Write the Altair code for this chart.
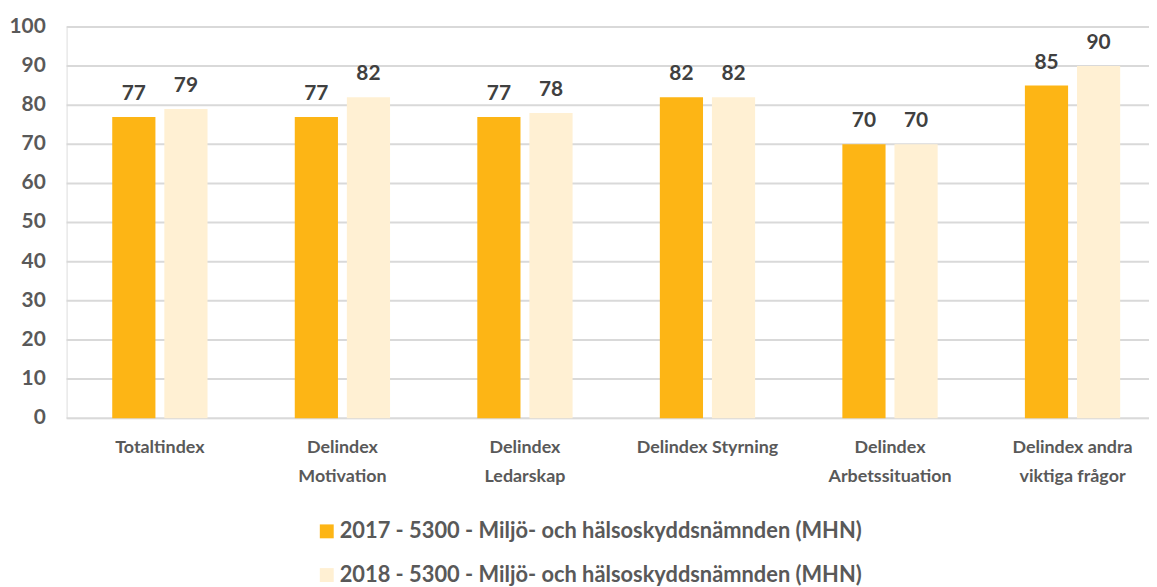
import altair as alt
import pandas as pd

categories = ["Totaltindex", "Delindex Motivation", "Delindex Ledarskap",
              "Delindex Styrning", "Delindex Arbetssituation", "Delindex andra viktiga frågor"]
label_lines = ["Totaltindex", "Delindex|Motivation", "Delindex|Ledarskap",
               "Delindex Styrning", "Delindex|Arbetssituation", "Delindex andra|viktiga frågor"]
series = ["2017 - 5300 - Miljö- och hälsoskyddsnämnden (MHN)",
          "2018 - 5300 - Miljö- och hälsoskyddsnämnden (MHN)"]
values_2017 = [77, 77, 77, 82, 70, 85]
values_2018 = [79, 82, 78, 82, 70, 90]
y_ticks = [0, 10, 20, 30, 40, 50, 60, 70, 80, 90, 100]
colors = ["#FDB515", "#FFF0D3"]

rows = []
for c, lab, a, b in zip(categories, label_lines, values_2017, values_2018):
    rows.append({"cat": lab, "serie": series[0], "value": a})
    rows.append({"cat": lab, "serie": series[1], "value": b})
df = pd.DataFrame(rows)
ticks_df = pd.DataFrame({"tick": y_ticks})

FONT = "Lato"
GREY = "#595959"
W, H = 1090, 394

yscale = alt.Scale(domain=[0, 100])

grid = alt.Chart(ticks_df).mark_rule(color="#D9D9D9", strokeWidth=2).encode(
    y=alt.Y("tick:Q", scale=yscale, axis=None),
    x=alt.value(0), x2=alt.value(W),
)
ylabels = alt.Chart(ticks_df).mark_text(align="right", baseline="middle", fontSize=21,
                                        font=FONT, fontWeight="bold", color=GREY).encode(
    y=alt.Y("tick:Q", scale=yscale, axis=None),
    x=alt.value(-21),
    text=alt.Text("tick:Q"),
)

x = alt.X("cat:N", sort=label_lines, title=None,
          scale=alt.Scale(paddingInner=0.478, paddingOuter=0.204, align=0.613),
          axis=alt.Axis(labelAngle=0, labelExpr="split(datum.label, '|')",
                        labelFontSize=18, labelColor=GREY, labelFont=FONT, labelFontWeight="bold",
                        labelPadding=21, labelLineHeight=29, domain=False, ticks=False,
                        grid=False, labelBaseline="top"))
xo = alt.XOffset("serie:N", sort=series, scale=alt.Scale(paddingInner=0.171))

base = alt.Chart(df).encode(x=x, xOffset=xo)

bars = base.mark_bar().encode(
    y=alt.Y("value:Q", title=None, scale=yscale, axis=None),
    color=alt.Color("serie:N", sort=series,
                    scale=alt.Scale(domain=series, range=colors),
                    legend=alt.Legend(title=None, orient="none", legendX=251, legendY=497,
                                      direction="vertical", symbolType="square",
                                      symbolSize=196, symbolStrokeWidth=0,
                                      labelFontSize=22, labelColor=GREY, labelFont=FONT,
                                      labelFontWeight="bold",
                                      labelLimit=900, rowPadding=22, labelOffset=2)),
)

texts = base.mark_text(dy=-17, baseline="alphabetic", fontSize=21, color="#404040",
                       font=FONT, fontWeight="bold").encode(
    y=alt.Y("value:Q", scale=yscale, axis=None),
    text=alt.Text("value:Q"),
)

chart = alt.layer(grid, ylabels, bars, texts).properties(
    width=W, height=H,
    autosize=alt.AutoSizeParams(type="none"),
    padding={"left": 59, "top": 17, "right": 0, "bottom": 168},
).configure_view(stroke=None).configure(background="white")

chart.save("out.html", embed_options={"renderer": "svg", "actions": False})
